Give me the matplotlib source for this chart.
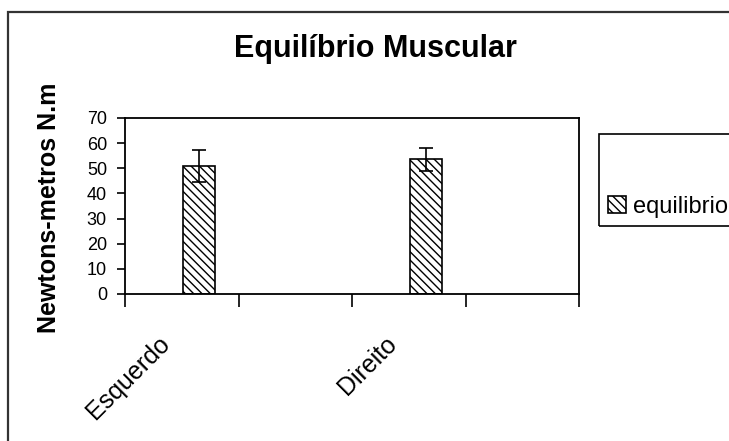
import matplotlib.pyplot as plt
import numpy as np
from matplotlib.patches import Rectangle
from matplotlib.transforms import ScaledTranslation

# dados do grafico
categorias = ["Esquerdo", "", "Direito", ""]
equilibrio = [51.0, np.nan, 53.5, np.nan]
erro = [6.3, np.nan, 4.6, np.nan]
y_ticks = [0, 10, 20, 30, 40, 50, 60, 70]

plt.rcParams['font.family'] = ['Liberation Sans', 'DejaVu Sans']
plt.rcParams['hatch.linewidth'] = 1.0

W, H = 729, 441
fig = plt.figure(figsize=(W / 100, H / 100), dpi=100)
fig.patch.set_facecolor('white')

# moldura externa (cortada a direita e embaixo)
fig.patches.append(Rectangle((8 / W, -0.1), 1.2, 1 - 12 / H + 0.1,
                             transform=fig.transFigure, fill=False,
                             edgecolor='#333333', linewidth=1.6))

ax = fig.add_axes([125 / W, 1 - 294 / H, (579 - 125) / W, (294 - 118) / H])

x = np.arange(len(categorias))
ax.bar(x + 0.15, equilibrio, width=0.286, color='white', edgecolor='black',
       hatch='\\\\\\\\', linewidth=1.2, label='equilibrio')
ax.errorbar(x + 0.15, equilibrio, yerr=erro, fmt='none', ecolor='black',
            elinewidth=1.2, capsize=5, capthick=1.2)

ax.set_xlim(-0.5, len(categorias) - 0.5)
ax.set_ylim(0, 70)
ax.set_yticks(y_ticks)
ax.tick_params(axis='y', direction='out', length=6, width=1.2, labelsize=13, pad=7)

# ticks nos limites das categorias, rotulos no centro
ax.set_xticks(np.arange(len(categorias) + 1) - 0.5)
ax.set_xticklabels([])
ax.tick_params(axis='x', which='major', direction='out', length=9, width=1.2)
ax.set_xticks(x, minor=True)
ax.set_xticklabels(categorias, minor=True, rotation=45, ha='right', va='top',
                   fontsize=18)
ax.tick_params(axis='x', which='minor', length=0, pad=27)
for lb in ax.get_xticklabels(minor=True):
    lb.set_transform(lb.get_transform() + ScaledTranslation(-0.07, 0, fig.dpi_scale_trans))

for s in ax.spines.values():
    s.set_linewidth(1.3)
    s.set_color('black')

fig.text(375 / W, 1 - 57 / H, 'Equilíbrio Muscular', ha='center', va='baseline',
         fontsize=22, fontweight='bold')
fig.text(49 / W, 1 - 208 / H, 'Newtons-metros N.m', rotation=90, ha='center',
         va='center', fontsize=18, fontweight='bold')

# legenda
fig.patches.append(Rectangle((599 / W, 1 - 226 / H), 0.3, (226 - 134) / H,
                             transform=fig.transFigure, fill=False,
                             edgecolor='black', linewidth=1.2))
fig.legend(loc='center left', bbox_to_anchor=(608 / W, 1 - 207 / H), frameon=False,
           fontsize=17, handlelength=0.75, handleheight=0.75, handletextpad=0.3,
           borderpad=0, borderaxespad=0)

fig.savefig('out.png', dpi=100)
